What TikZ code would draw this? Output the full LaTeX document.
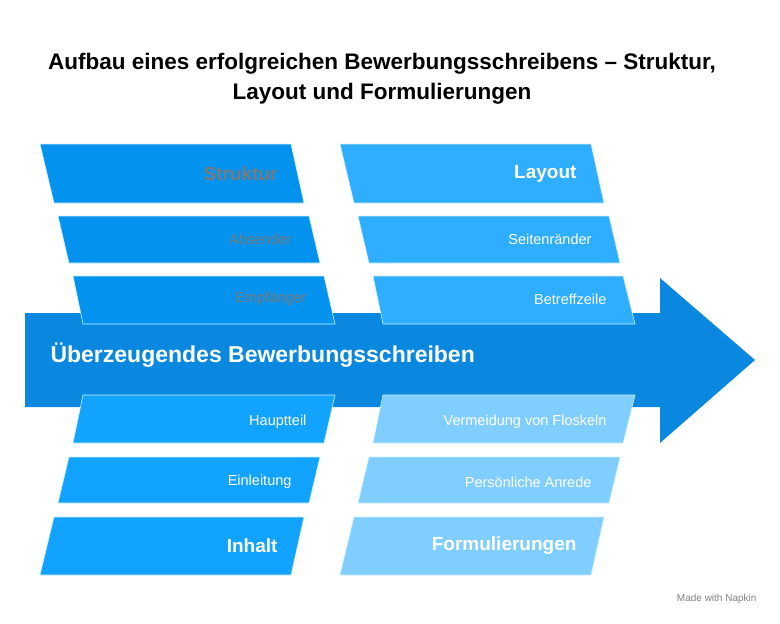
\documentclass[tikz,border=0pt]{standalone}
\usepackage{fontspec}
\setmainfont{Liberation Sans}
\definecolor{arrowblue}{HTML}{0A88E0}
\definecolor{strukblue}{HTML}{0393EE}
\definecolor{layblue}{HTML}{2FAEFF}
\definecolor{inhblue}{HTML}{12A2FF}
\definecolor{formblue}{HTML}{80CEFF}
\definecolor{greytext}{HTML}{7A7A7A}
\tikzset{
  band/.style = {draw = white!80!cyan, line width = .6pt},
  head/.style = {font = \bfseries\fontsize{19}{21}\selectfont, anchor = east},
  item/.style = {font = \fontsize{14.5}{16}\selectfont, anchor = east}
}
% band: tl-x, tr-x, bl-x, br-x, top y, bottom y, colour
\newcommand{\bandshape}[7]{\fill[#7] (#1,#5) -- (#2,#5) -- (#4,#6) -- (#3,#6) -- cycle;
  \draw[band] (#1,#5) -- (#2,#5) -- (#4,#6) -- (#3,#6) -- cycle;}
\begin{document}
\begin{tikzpicture}[x = 1pt, y = -1pt]
	\useasboundingbox (0,0) rectangle (780,624);
	\node[font = \bfseries\fontsize{22.5}{30}\selectfont, align = center] (title) at (382,79)
		{Aufbau eines erfolgreichen Bewerbungsschreibens -- Struktur,\\ Layout und Formulierungen};

	% main arrow
	\fill[arrowblue] (25,313) -- (660,313) -- (660,278) -- (755,360) -- (660,443) -- (660,407) -- (25,407) -- cycle;
	\node[font = \bfseries\fontsize{23}{26}\selectfont, text = white, anchor = west] (main) at (47,355) {Überzeugendes Bewerbungsschreiben};

	% top left
	\bandshape{40}{291}{54}{304}{144}{203}{strukblue}
	\bandshape{58}{309}{69}{320}{216}{263}{strukblue}
	\bandshape{73}{324}{83}{335}{276}{324}{strukblue}
	\node[head, text = greytext] (struktur) at (281,174) {Struktur};
	\node[item, text = greytext] (absender) at (295,239) {Absender};
	\node[item, text = greytext] (empf) at (310,299) {Empfänger};

	% top right
	\bandshape{340}{591}{354}{604}{144}{203}{layblue}
	\bandshape{358}{609}{369}{620}{216}{263}{layblue}
	\bandshape{373}{623}{383}{635}{276}{324}{layblue}
	\node[head, text = white] (layout) at (580,174) {Layout};
	\node[item, text = white] (rand) at (595,239) {Seitenränder};
	\node[item, text = white] (betreff) at (610,299) {Betreffzeile};

	% bottom left
	\bandshape{83}{335}{73}{324}{395}{443}{inhblue}
	\bandshape{69}{320}{58}{309}{457}{503}{inhblue}
	\bandshape{54}{304}{40}{291}{517}{575}{inhblue}
	\node[item, text = white] (haupt) at (310,422) {Hauptteil};
	\node[item, text = white] (einl) at (295,482) {Einleitung};
	\node[head, text = white] (inhalt) at (281,546) {Inhalt};

	% bottom right
	\bandshape{383}{635}{373}{623}{395}{443}{formblue}
	\bandshape{369}{620}{358}{609}{457}{503}{formblue}
	\bandshape{354}{604}{340}{591}{517}{575}{formblue}
	\node[item, text = white] (floskeln) at (610,422) {Vermeidung von Floskeln};
	\node[item, text = white] (anrede) at (595,482) {Persönliche Anrede};
	\node[head, text = white] (form) at (580,546) {Formulierungen};

	\node[font = \fontsize{10}{11}\selectfont, text = gray, anchor = east] (napkin) at (760,599) {Made with Napkin};
\end{tikzpicture}
\end{document}
